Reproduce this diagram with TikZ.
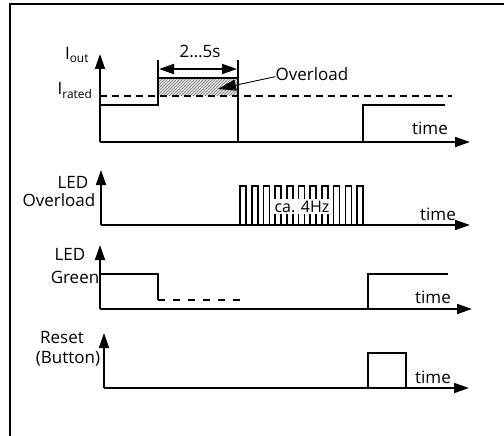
\documentclass[tikz,border=0pt]{standalone}
\usepackage{fontspec}
\setmainfont{Open Sans}
\usetikzlibrary{arrows.meta,patterns}

\begin{document}
\begin{tikzpicture}
	  [
	    x                       = 1pt,
	    y                       = -1pt,
	    every node/.style       = {font=\fontsize{17}{17}\selectfont, inner sep=0pt, anchor=base},
	    axis/.style             = {line width=1.6pt, -{Triangle[length=15pt,width=10pt]}},
	    signal/.style           = {line width=1.6pt},
	    rated/.style            = {line width=1.4pt, dash pattern=on 7pt off 5pt},
	    dimline/.style          = {line width=1.8pt, {Triangle[length=15pt,width=10pt]}-{Triangle[length=15pt,width=10pt]}},
	    pointer/.style          = {line width=0.9pt, -{Triangle[length=18pt,width=11pt]}},
	    frame/.style            = {line width=1.4pt}
		]
		\useasboundingbox (0,0) rectangle (504,436);
		\draw[frame] (10,436) -- (10,4) -- (504,4);

		% I_out
		\coordinate (O1) at (100,142);
		\draw[axis] (O1) -- (100,54);
		\draw[axis] (O1) -- (470,142);
		\node (iout) at (77,60) {I\textsubscript{out}};
		\node (irated) at (75,95) {I\textsubscript{rated}};
		\node (time1) at (430,135) {time};
		\fill[gray!25] (158,78) rectangle (238,96);
		\fill[pattern=north east lines, pattern color=gray] (158,78) rectangle (238,96);
		\draw[rated] (100,96) -- (452,96);
		\draw[signal] (O1 |- 0,105) -- (158,105) -- (158,60);
		\draw[signal] (158,78) -- (238,78);
		\draw[signal] (238,60) -- (238,142);
		\draw[signal] (363,142) -- (363,105) -- (445,105);
		\draw[dimline] (159,69) -- (237,69);
		\node (dur) at (200,58) {2\ldots5s};
		\node (ovl) at (312,81) {Overload};
		\draw[pointer] ([yshift=-2pt]ovl.west) -- (218,89);

		% LED Overload
		\coordinate (O2) at (101,225);
		\draw[axis] (O2) -- (101,170);
		\draw[axis] (O2) -- (470,225);
		\node (led1) at (73,188) {LED};
		\node (ovl1) at (59,206) {Overload};
		\node (time2) at (438,220) {time};
		\foreach \i in {0,...,10}
			\draw[signal] (240+\i*11.7,225) -- (240+\i*11.7,186) -- (246+\i*11.7,186) -- (246+\i*11.7,225);
		\node[fill=white, inner sep=1.5pt, font=\fontsize{16}{16}\selectfont] (freq) at (302,212) {ca. 4Hz};

		% LED Green
		\coordinate (O3) at (100,309);
		\draw[axis] (O3) -- (100,245);
		\draw[axis] (O3) -- (472,309);
		\node (led2) at (70,260) {LED};
		\node (green) at (75,283) {Green};
		\node (time3) at (433,303) {time};
		\draw[signal] (100,274) -- (158,274) -- (158,300);
		\draw[signal, dash pattern=on 7pt off 8pt] (158,300) -- (240,300) -- (240,309);
		\draw[signal] (368,309) -- (368,274) -- (448,274);

		% Reset
		\coordinate (O4) at (104,388);
		\draw[axis] (O4) -- (104,333);
		\draw[axis] (O4) -- (469,388);
		\node (reset) at (62,343) {Reset};
		\node (button) at (68,363) {(Button)};
		\node (time4) at (433,383) {time};
		\draw[signal] (368,388) -- (368,353) -- (406,353) -- (406,388);
	\end{tikzpicture}
\end{document}
